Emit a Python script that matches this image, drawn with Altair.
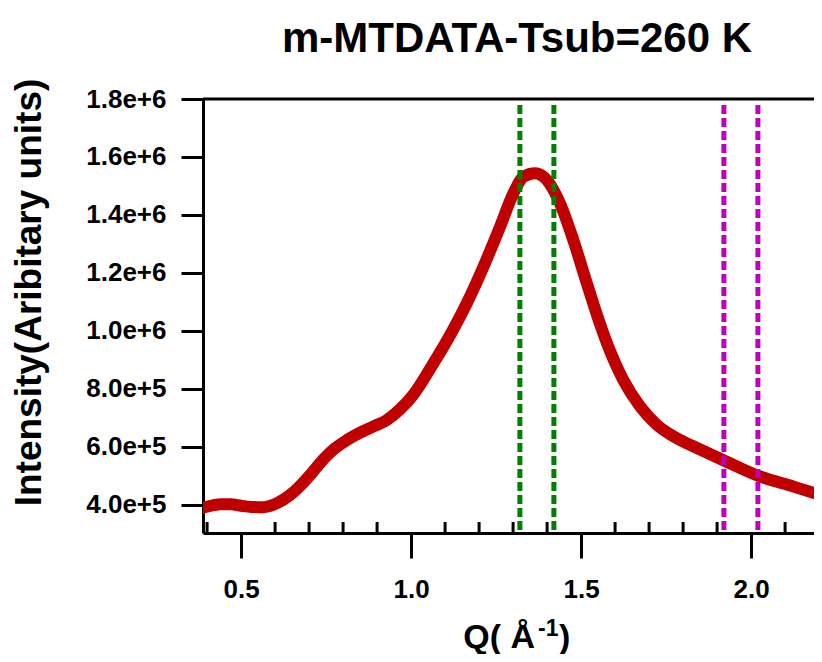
import altair as alt
import pandas as pd

# ---- data ----
Q_VALUES = [0.388, 0.42, 0.44, 0.47, 0.50, 0.53, 0.565, 0.606, 0.644, 0.674, 0.703,
            0.732, 0.771, 0.812, 0.85, 0.888, 0.929, 0.968, 1.006, 1.066, 1.115,
            1.164, 1.213, 1.262, 1.301, 1.330, 1.365, 1.399, 1.438, 1.477, 1.517,
            1.551, 1.576, 1.624, 1.674, 1.723, 1.772, 1.811, 1.830, 1.928, 2.026,
            2.125, 2.209]
INTENSITY = [3.90e5, 3.99e5, 4.02e5, 4.02e5, 3.97e5, 3.93e5, 3.92e5, 4.06e5, 4.34e5,
             4.66e5, 5.03e5, 5.44e5, 5.90e5, 6.24e5, 6.49e5, 6.70e5, 6.93e5, 7.30e5,
             7.79e5, 8.89e5, 9.86e5, 1.096e6, 1.222e6, 1.360e6, 1.475e6, 1.532e6,
             1.544e6, 1.521e6, 1.440e6, 1.314e6, 1.164e6, 1.04e6, 9.58e5, 8.31e5,
             7.39e5, 6.76e5, 6.36e5, 6.12e5, 6.02e5, 5.49e5, 4.98e5, 4.63e5, 4.32e5]

VLINE_Q = [1.32, 1.42, 1.92, 2.02]
VLINE_GROUP = ["green", "green", "magenta", "magenta"]

Y_TICKS = [4e5, 6e5, 8e5, 1.0e6, 1.2e6, 1.4e6, 1.6e6, 1.8e6]
X_TICKS = [0.5, 1.0, 1.5, 2.0]
X_MINOR = [0.4, 0.6, 0.7, 0.8, 0.9, 1.1, 1.2, 1.3, 1.4, 1.6, 1.7, 1.8, 1.9, 2.1, 2.2]

TITLE = "m-MTDATA-Tsub=260 K"
Y_TITLE = "Intensity(Aribitary units)"
X_TITLE_MAIN = "Q( Å"
X_TITLE_SUP = "-1"
X_TITLE_END = ")"

# ---- chart ----
W, H = 611, 434
FONT = "Liberation Sans"

curve_df = pd.DataFrame({"q": Q_VALUES, "i": INTENSITY})
vline_df = pd.DataFrame({"q": VLINE_Q, "g": VLINE_GROUP})
minor_df = pd.DataFrame({"q": X_MINOR})

xscale = alt.Scale(domain=[0.388, 2.185], nice=False, zero=False)
yscale = alt.Scale(domain=[3.03e5, 1.8e6], nice=False, zero=False)

x_axis = alt.Axis(values=X_TICKS, format=".1f", tickSize=25, tickWidth=3,
                  domainWidth=3, domainColor="black", tickColor="black",
                  labelFont=FONT, labelFontSize=26, labelFontWeight="bold",
                  labelColor="black", labelPadding=18, title=None, grid=False)
y_axis = alt.Axis(values=Y_TICKS, format=".1e", tickSize=22, tickWidth=3,
                  domainWidth=3, domainColor="black", tickColor="black",
                  labelFont=FONT, labelFontSize=26, labelFontWeight="bold",
                  labelColor="black", labelPadding=15, grid=False,
                  title=Y_TITLE, titleFont=FONT, titleFontSize=37,
                  titleFontWeight="bold", titleColor="black", titleAngle=-90,
                  titleX=-174, titleY=193, titleAlign="center",
                  titleBaseline="middle")

curve = alt.Chart(curve_df).mark_line(
    color="#c00000", strokeWidth=12, interpolate="monotone", clip=True,
    strokeCap="round"
).encode(
    x=alt.X("q:Q", scale=xscale, axis=x_axis),
    y=alt.Y("i:Q", scale=yscale, axis=y_axis),
)

vlines = alt.Chart(vline_df).mark_rule(
    strokeWidth=5, strokeDash=[9, 4]
).encode(
    x=alt.X("q:Q", scale=xscale, axis=x_axis),
    y=alt.value(6),
    y2=alt.value(H),
    color=alt.Color("g:N", scale=alt.Scale(domain=["green", "magenta"],
                                           range=["#008000", "#c000c0"]),
                    legend=None),
)

minor = alt.Chart(minor_df).mark_rule(strokeWidth=3, color="black", clip=True).encode(
    x=alt.X("q:Q", scale=xscale, axis=x_axis),
    y=alt.value(H - 11),
    y2=alt.value(H),
)

top_border = alt.Chart(pd.DataFrame({"a": [0]})).mark_rule(
    strokeWidth=3, color="black"
).encode(x=alt.value(0), x2=alt.value(W), y=alt.value(0))

title_txt = alt.Chart(pd.DataFrame({"t": [TITLE]})).mark_text(
    font=FONT, fontSize=42, fontWeight="bold", color="black",
    align="center", baseline="alphabetic"
).encode(text="t:N", x=alt.value(314), y=alt.value(-47))

xt_main = alt.Chart(pd.DataFrame({"t": [X_TITLE_MAIN]})).mark_text(
    font=FONT, fontSize=34, fontWeight="bold", color="black",
    align="right", baseline="alphabetic"
).encode(text="t:N", x=alt.value(332), y=alt.value(549))

xt_sup = alt.Chart(pd.DataFrame({"t": [X_TITLE_SUP]})).mark_text(
    font=FONT, fontSize=23, fontWeight="bold", color="black",
    align="left", baseline="alphabetic"
).encode(text="t:N", x=alt.value(335), y=alt.value(537))

xt_end = alt.Chart(pd.DataFrame({"t": [X_TITLE_END]})).mark_text(
    font=FONT, fontSize=34, fontWeight="bold", color="black",
    align="left", baseline="alphabetic"
).encode(text="t:N", x=alt.value(356), y=alt.value(549))

chart = alt.layer(curve, vlines, minor, top_border, title_txt,
                  xt_main, xt_sup, xt_end).properties(
    width=W, height=H,
    autosize=alt.AutoSizeParams(type="none"),
    padding={"left": 195, "top": 91, "right": 0, "bottom": 121},
    background="white",
).configure_view(stroke=None)

chart.save("out.html", embed_options={"renderer": "svg", "actions": False})
